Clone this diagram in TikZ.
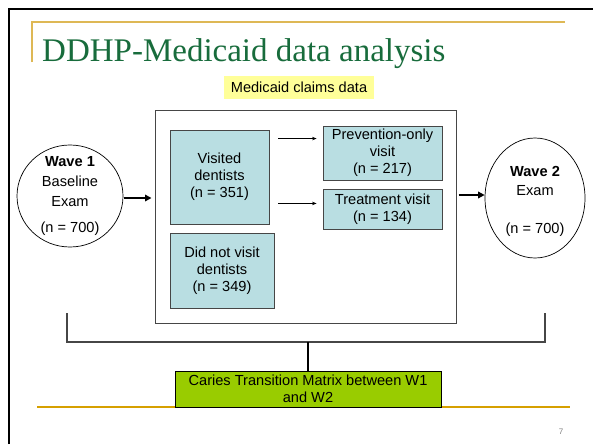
\documentclass[tikz,border=0pt]{standalone}
\usepackage{fontspec}
\setmainfont{Liberation Sans}
\newfontfamily\titlefont{Liberation Serif}
\usetikzlibrary{arrows.meta,shapes.geometric}
\definecolor{titlegreen}{RGB}{24,108,60}
\definecolor{goldtop}{RGB}{222,184,85}
\definecolor{goldbot}{RGB}{214,160,0}
\definecolor{paleblue}{RGB}{185,222,226}
\definecolor{paleyellow}{RGB}{255,255,153}
\definecolor{limegreen}{RGB}{153,204,0}
\definecolor{edgegray}{RGB}{70,70,70}
\tikzset{
  bodyfont/.style={font=\fontsize{14.6}{17}\selectfont},
  bluebox/.style={draw=edgegray, fill=paleblue, line width=0.9pt, align=center, inner sep=0pt, bodyfont},
  mainbox/.style={draw=edgegray, fill=white, line width=1pt, inner sep=0pt},
  wave/.style={ellipse, draw=black, line width=0.7pt, inner sep=0pt},
  wavetext/.style={align=center, font=\fontsize{14.6}{19}\selectfont},
  thinarrow/.style={line width=0.6pt, -{Stealth[length=4.5pt,width=3.5pt]}},
  thickarrow/.style={line width=2.3pt, -{Triangle[length=6.5pt,width=6.5pt]}},
  bracket/.style={draw=edgegray, line width=1.1pt},
  stem/.style={draw=black, line width=1.4pt},
}
\begin{document}
\begin{tikzpicture}[x=1pt,y=-1pt]
\useasboundingbox (0,0) rectangle (593,444);
\fill[white] (0,0) rectangle (593,444);
% slide frame
\draw[line width=2.5pt] (9,444) -- (9,9) -- (593,9);
% gold rules
\draw[goldtop, line width=1.6pt] (32,62) -- (32,22) -- (565,22);
\draw[goldbot, line width=1.6pt] (37,407) -- (570,407);
% title
\node[anchor=base west, inner sep=0pt, text=titlegreen, font=\titlefont\fontsize{33}{36}\selectfont] (title) at (42,61) {DDHP-Medicaid data analysis};
% label
\node[fill=paleyellow, minimum width=150pt, minimum height=23pt, inner sep=0pt, bodyfont] (claims) at (299,87.5) {Medicaid claims data};
% main box and inner boxes
\node[mainbox, minimum width=301pt, minimum height=213pt] (main) at (305.5,216.5) {};
\node[bluebox, minimum width=99pt, minimum height=94pt] (visited) at (219.5,177) {Visited\\dentists\\(n = 351)};
\node[bluebox, minimum width=104pt, minimum height=75pt] (notvisit) at (222,270.5) {Did not visit\\dentists\\(n = 349)};
\node[bluebox, minimum width=119pt, minimum height=54pt] (prev) at (382.5,153) {Prevention-only\\visit\\(n = 217)};
\node[bluebox, minimum width=119pt, minimum height=40pt] (treat) at (382.5,209) {Treatment visit\\(n = 134)};
\draw[thinarrow, shorten <=9pt, shorten >=6pt] ([yshift=-9pt]visited.north east) -- ([yshift=-9pt]visited.north east -| prev.west);
\draw[thinarrow, shorten <=9pt, shorten >=6pt] ([yshift=21pt]visited.south east) -- ([yshift=21pt]visited.south east -| treat.west);
% waves
\node[wave, minimum width=106pt, minimum height=102pt] (w1) at (70,196) {};
\node[wavetext] at (w1.center) {\textbf{Wave 1}\\[1pt]Baseline\\[1pt]Exam\\[7pt](n = 700)};
\node[wave, minimum width=100pt, minimum height=120pt] (w2) at (535,198) {};
\node[wavetext, yshift=-3.5pt] at (w2.center) {\textbf{Wave 2}\\Exam\\[19pt](n = 700)};
\draw[thickarrow, shorten <=1pt, shorten >=3pt] ([yshift=-2pt]w1.east) -- ([yshift=-2pt]w1.east -| main.west);
\draw[thickarrow, shorten <=2pt] ([yshift=3pt]w2.west -| main.east) -- ([yshift=3pt]w2.west);
% bracket and result
\node[draw=black, fill=limegreen, line width=0.9pt, minimum width=266pt, minimum height=36pt, inner sep=0pt, align=center, bodyfont] (matrix) at (308,389) {Caries Transition Matrix between W1\\and W2};
\coordinate (bl) at (67,313);
\coordinate (br) at (545,313);
\draw[bracket] (bl) -- ++(0,29) -| (br);
\draw[stem] (matrix.north) -- ++(0,-29);
% page number
\node[text=gray, font=\fontsize{8}{9}\selectfont, inner sep=0pt] (page) at (561,432) {7};
\end{tikzpicture}
\end{document}
